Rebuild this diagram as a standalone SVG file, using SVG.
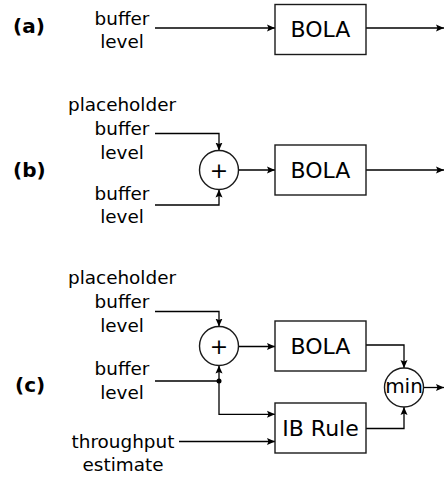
<svg xmlns="http://www.w3.org/2000/svg" width="444" height="478" viewBox="0 0 444 478">
<style>
text{font-family:"DejaVu Sans","Liberation Sans",sans-serif;fill:#000}
.lbl{font-size:18.4px;text-anchor:middle}
.tag{font-size:20px;font-weight:bold}
.box rect{fill:#fff;stroke:#1a1a1a;stroke-width:1.4}
.box text{font-size:22px;text-anchor:middle}
.op circle{fill:#fff;stroke:#1a1a1a;stroke-width:1.4}
.op text{text-anchor:middle}
.wire path{fill:none;stroke:#000;stroke-width:1.3}
</style>
<defs>
<marker id="ah" markerUnits="userSpaceOnUse" markerWidth="9" markerHeight="8" refX="8" refY="4" orient="auto">
<path d="M0,0.5 L8,4 L0,7.5 L1.5,4 z" fill="#000"/>
</marker>
</defs>
<g id="tags">
<text class="tag" x="13" y="33">(a)</text>
<text class="tag" x="13" y="176.5">(b)</text>
<text class="tag" x="15" y="391.5">(c)</text>
</g>
<g id="labels">
<text class="lbl" x="122" y="25">buffer</text>
<text class="lbl" x="122" y="47.7">level</text>
<text class="lbl" x="122" y="111">placeholder</text>
<text class="lbl" x="122" y="135">buffer</text>
<text class="lbl" x="122" y="158.5">level</text>
<text class="lbl" x="122" y="200">buffer</text>
<text class="lbl" x="122" y="223">level</text>
<text class="lbl" x="122" y="283.5">placeholder</text>
<text class="lbl" x="122" y="307.5">buffer</text>
<text class="lbl" x="122" y="331.5">level</text>
<text class="lbl" x="122" y="375">buffer</text>
<text class="lbl" x="122" y="398.5">level</text>
<text class="lbl" x="123" y="447.5">throughput</text>
<text class="lbl" x="123" y="471">estimate</text>
</g>
<g id="wires" class="wire">
<path d="M155,28 H275" marker-end="url(#ah)"/>
<path d="M366,28 H444" marker-end="url(#ah)"/>
<path d="M155,133.5 H219 V150.5" marker-end="url(#ah)"/>
<path d="M155,205 H219 V189.5" marker-end="url(#ah)"/>
<path d="M238.5,170 H275" marker-end="url(#ah)"/>
<path d="M366,170 H444" marker-end="url(#ah)"/>
<path d="M155,311.5 H219 V326.5" marker-end="url(#ah)"/>
<path d="M155,381 H219 V365.5" marker-end="url(#ah)"/>
<path d="M219,381 V414.3 H275" marker-end="url(#ah)"/>
<path d="M179,441.5 H275" marker-end="url(#ah)"/>
<path d="M238.5,346.5 H275" marker-end="url(#ah)"/>
<path d="M366,345 H404 V368" marker-end="url(#ah)"/>
<path d="M366,428.5 H404 V407" marker-end="url(#ah)"/>
<path d="M423.5,387.5 H444" marker-end="url(#ah)"/>
<circle cx="219" cy="381" r="2.5" fill="#000"/>
</g>
<g id="bola-a" class="box"><rect x="275" y="4.5" width="91" height="50"/><text x="320.5" y="37.3">BOLA</text></g>
<g id="sum-b" class="op"><circle cx="219" cy="170" r="19.5"/><text x="219" y="177.5" font-size="22">+</text></g>
<g id="bola-b" class="box"><rect x="275" y="145" width="91" height="50"/><text x="320.5" y="178">BOLA</text></g>
<g id="sum-c" class="op"><circle cx="219" cy="346" r="19.5"/><text x="219" y="353.5" font-size="22">+</text></g>
<g id="bola-c" class="box"><rect x="275" y="321" width="91" height="50"/><text x="320.5" y="354">BOLA</text></g>
<g id="ibrule-c" class="box"><rect x="275" y="403" width="91" height="50"/><text x="320.5" y="436">IB Rule</text></g>
<g id="min-c" class="op"><circle cx="404" cy="387.5" r="19.5"/><text x="404" y="392.5" font-size="20">min</text></g>
</svg>
